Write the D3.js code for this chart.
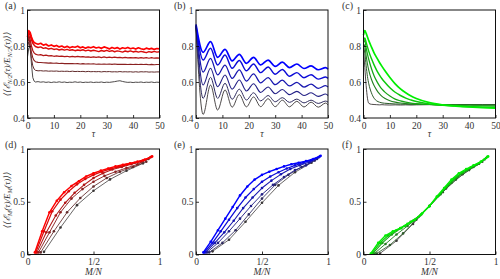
<!DOCTYPE html>
<html><head><meta charset="utf-8">
<script src="https://cdn.jsdelivr.net/npm/d3@7"></script>
<style>
html,body{margin:0;padding:0;background:#fff;}
svg{display:block;}
</style></head>
<body>
<svg id="chart" width="500" height="279"></svg>
<script>
// ---------------- DATA ----------------
const panelLabels = ["(a)","(b)","(c)","(d)","(e)","(f)"];
const topXTicks = [0,10,20,30,40,50];
const topYTicks = [0.4,0.6,0.8,1];
const topYTickLabels = ["0.4","0.6","0.8","1"];
const botXTicks = [0,0.5,1];
const botXTickLabels = ["0","1/2","1"];
const botYTicks = [0,0.5,1];
const botYTickLabels = ["0","0.5","1"];

// panel (a): tau grid and six curves (bright -> dark)
const tauA = [0,0.5,1,1.5,2,2.5,3,4,5,6,7,8,9,10,11,12,13,14,15,16,17,18,19,20,21,22,23,24,25,26,27,28,29,30,31,32,33,34,35,36,37,38,39,40,41,42,43,44,45,46,47,48,49,50];
const a1 = [0.85,0.885,0.875,0.85,0.83,0.82,0.815,0.81,0.815,0.805,0.81,0.80,0.806,0.798,0.803,0.795,0.80,0.792,0.798,0.79,0.796,0.793,0.799,0.79,0.795,0.788,0.794,0.79,0.796,0.789,0.793,0.787,0.795,0.79,0.784,0.792,0.786,0.791,0.783,0.79,0.786,0.792,0.785,0.789,0.783,0.79,0.785,0.781,0.788,0.783,0.787,0.781,0.786,0.784];
const a2 = [0.86,0.875,0.86,0.835,0.815,0.805,0.797,0.792,0.795,0.787,0.79,0.783,0.787,0.781,0.784,0.778,0.782,0.777,0.781,0.776,0.779,0.774,0.778,0.775,0.779,0.773,0.777,0.772,0.776,0.773,0.769,0.775,0.771,0.776,0.77,0.774,0.768,0.773,0.77,0.766,0.772,0.768,0.773,0.767,0.771,0.766,0.77,0.767,0.763,0.769,0.765,0.77,0.766,0.768];
const a3 = [0.84,0.86,0.835,0.80,0.775,0.762,0.755,0.75,0.752,0.747,0.749,0.745,0.747,0.743,0.745,0.742,0.744,0.741,0.743,0.74,0.742,0.739,0.742,0.739,0.741,0.738,0.74,0.737,0.74,0.737,0.739,0.736,0.739,0.736,0.738,0.735,0.738,0.735,0.737,0.734,0.737,0.734,0.736,0.734,0.736,0.733,0.736,0.733,0.735,0.732,0.735,0.732,0.734,0.733];
const a4 = [0.82,0.845,0.81,0.765,0.735,0.72,0.713,0.709,0.708,0.707,0.706,0.705,0.706,0.704,0.705,0.703,0.704,0.702,0.703,0.702,0.703,0.701,0.702,0.70,0.702,0.70,0.701,0.70,0.701,0.699,0.70,0.699,0.70,0.699,0.70,0.698,0.70,0.698,0.699,0.698,0.699,0.697,0.699,0.697,0.698,0.697,0.698,0.697,0.698,0.696,0.698,0.696,0.697,0.697];
const a5 = [0.79,0.825,0.79,0.73,0.69,0.672,0.665,0.662,0.663,0.661,0.662,0.66,0.661,0.66,0.661,0.659,0.66,0.659,0.66,0.658,0.66,0.658,0.659,0.658,0.659,0.657,0.659,0.657,0.658,0.657,0.658,0.656,0.658,0.657,0.658,0.656,0.657,0.656,0.658,0.656,0.657,0.656,0.657,0.655,0.657,0.655,0.657,0.656,0.657,0.655,0.656,0.655,0.656,0.656];
const a6 = [0.74,0.79,0.795,0.70,0.625,0.605,0.60,0.602,0.599,0.601,0.598,0.60,0.597,0.60,0.598,0.601,0.598,0.60,0.597,0.599,0.598,0.601,0.598,0.60,0.597,0.599,0.598,0.60,0.597,0.599,0.598,0.60,0.597,0.599,0.598,0.60,0.602,0.605,0.607,0.603,0.60,0.598,0.599,0.597,0.599,0.598,0.60,0.597,0.599,0.598,0.60,0.597,0.599,0.598];

// panel (b): tau grid at oscillation extrema
const tauB = [0,2.7,5.5,8.2,11,13.7,16.4,19.1,21.8,24.5,27.3,30,32.7,35.4,38.2,40.9,43.6,46.3,49.1,50];
const b1 = [0.92,0.765,0.824,0.737,0.781,0.717,0.754,0.704,0.737,0.695,0.722,0.687,0.71,0.68,0.70,0.675,0.69,0.668,0.68,0.672];
const b2 = [0.915,0.722,0.787,0.694,0.75,0.676,0.719,0.662,0.70,0.652,0.683,0.643,0.67,0.632,0.652,0.624,0.64,0.616,0.628,0.62];
const b3 = [0.912,0.655,0.731,0.639,0.694,0.62,0.667,0.605,0.645,0.595,0.625,0.585,0.61,0.578,0.598,0.572,0.588,0.565,0.58,0.572];
const b4 = [0.91,0.583,0.676,0.574,0.639,0.56,0.611,0.55,0.59,0.542,0.572,0.535,0.558,0.53,0.548,0.525,0.54,0.52,0.533,0.525];
const b5 = [0.905,0.509,0.626,0.509,0.593,0.504,0.56,0.50,0.54,0.495,0.525,0.49,0.513,0.487,0.505,0.484,0.499,0.481,0.494,0.488];
const b6 = [0.90,0.42,0.583,0.444,0.556,0.46,0.53,0.462,0.517,0.463,0.507,0.463,0.499,0.462,0.493,0.461,0.488,0.46,0.483,0.472];

// panel (c)
const tauC = [0,0.5,1,1.5,2,3,4,5,6,7,8,10,12,14,16,18,20,25,30,35,40,45,50];
const c1 = [0.86,0.885,0.87,0.85,0.83,0.795,0.762,0.735,0.71,0.687,0.665,0.625,0.59,0.562,0.54,0.522,0.508,0.485,0.473,0.466,0.461,0.458,0.455];
const c2 = [0.83,0.845,0.82,0.795,0.77,0.73,0.695,0.665,0.64,0.618,0.60,0.568,0.543,0.525,0.51,0.50,0.492,0.478,0.47,0.466,0.463,0.46,0.458];
const c3 = [0.82,0.83,0.79,0.755,0.725,0.675,0.635,0.605,0.58,0.56,0.545,0.522,0.505,0.495,0.488,0.483,0.48,0.475,0.472,0.47,0.468,0.467,0.466];
const c4 = [0.81,0.80,0.745,0.70,0.665,0.615,0.58,0.555,0.535,0.52,0.51,0.496,0.488,0.483,0.48,0.478,0.477,0.475,0.474,0.473,0.472,0.471,0.471];
const c5 = [0.80,0.76,0.69,0.63,0.59,0.54,0.51,0.495,0.488,0.484,0.482,0.48,0.478,0.477,0.477,0.476,0.476,0.475,0.475,0.474,0.475,0.474,0.474];
const c6 = [0.78,0.68,0.58,0.51,0.482,0.476,0.475,0.474,0.473,0.474,0.473,0.472,0.473,0.472,0.473,0.472,0.473,0.474,0.473,0.474,0.475,0.474,0.475];

// bottom panels: system sizes N, points at M/N for M = 1..N-1
const sizesN = [18,16,14,12,10,8];
const d18 = [0.02,0.22,0.40,0.51,0.59,0.65,0.695,0.74,0.77,0.795,0.815,0.835,0.85,0.865,0.88,0.90,0.93];
const d16 = [0.02,0.22,0.41,0.52,0.60,0.665,0.715,0.755,0.785,0.81,0.83,0.85,0.87,0.89,0.925];
const d14 = [0.02,0.21,0.37,0.49,0.585,0.66,0.725,0.77,0.805,0.83,0.855,0.88,0.92];
const d12 = [0.02,0.21,0.40,0.53,0.62,0.69,0.745,0.785,0.82,0.855,0.905];
const d10 = [0.02,0.22,0.40,0.535,0.645,0.725,0.785,0.83,0.88];
const d8  = [0.025,0.256,0.468,0.604,0.712,0.794,0.864];

const e18 = [0.02,0.12,0.23,0.34,0.45,0.56,0.645,0.71,0.755,0.785,0.81,0.835,0.855,0.87,0.885,0.905,0.935];
const e16 = [0.02,0.11,0.22,0.33,0.44,0.54,0.62,0.69,0.74,0.78,0.815,0.845,0.87,0.895,0.93];
const e14 = [0.02,0.11,0.21,0.32,0.44,0.54,0.63,0.70,0.76,0.81,0.845,0.875,0.92];
const e12 = [0.02,0.11,0.22,0.34,0.46,0.57,0.66,0.735,0.80,0.845,0.905];
const e10 = [0.02,0.11,0.23,0.38,0.53,0.66,0.755,0.83,0.89];
const e8  = [0.03,0.14,0.31,0.49,0.655,0.78,0.87];

const f18 = [0.01,0.11,0.18,0.22,0.25,0.29,0.33,0.39,0.46,0.55,0.63,0.71,0.77,0.81,0.845,0.88,0.93];
const f16 = [0.01,0.11,0.18,0.23,0.27,0.32,0.38,0.46,0.55,0.64,0.72,0.78,0.825,0.865,0.925];
const f14 = [0.01,0.11,0.19,0.25,0.31,0.37,0.46,0.56,0.66,0.74,0.80,0.85,0.915];
const f12 = [0.01,0.10,0.19,0.27,0.355,0.46,0.57,0.68,0.77,0.83,0.90];
const f10 = [0.01,0.09,0.20,0.33,0.46,0.59,0.71,0.80,0.88];
const f8  = [0.01,0.13,0.29,0.46,0.625,0.76,0.86];

// ---------------- DRAW ----------------
const svg = d3.select("#chart");
const SERIF = "'Liberation Serif','DejaVu Serif',serif";
const cols = [{x0:27.5,x1:159.5},{x0:196,x1:328},{x0:363.5,x1:495.5}];
const rows = [{y0:10,y1:118},{y0:149,y1:254.5}];
const baseColors = ["#ff0000","#0000ff","#00ee00"];
const darkColor = "#3a3636";
const widths = [1.7,1.45,1.25,1.1,1.0,0.9];

const topSets = [[a1,a2,a3,a4,a5,a6],[b1,b2,b3,b4,b5,b6],[c1,c2,c3,c4,c5,c6]];
const topTaus = [tauA,tauB,tauC];
const topCurves = [d3.curveLinear, d3.curveMonotoneX, d3.curveMonotoneX];
const botSets = [[d18,d16,d14,d12,d10,d8],[e18,e16,e14,e12,e10,e8],[f18,f16,f14,f12,f10,f8]];

function colorOf(p,i){ return d3.interpolateRgb(darkColor, baseColors[p])(1 - i/5); }

function drawAxes(g, x, y, xt, xl, yt, yl){
  const ax = g.append("g").attr("transform",`translate(0,${y.range()[0]})`)
    .call(d3.axisBottom(x).tickValues(xt).tickFormat((d,i)=>xl[i]).tickSizeInner(-3).tickSizeOuter(0).tickPadding(4));
  const ay = g.append("g").attr("transform",`translate(${x.range()[0]},0)`)
    .call(d3.axisLeft(y).tickValues(yt).tickFormat((d,i)=>yl[i]).tickSizeInner(-3).tickSizeOuter(0).tickPadding(2.5));
  [ax,ay].forEach(a=>{
    a.select(".domain").remove();
    a.selectAll("line").attr("stroke","#000").attr("stroke-width",0.8);
    a.selectAll("text").attr("fill","#333").style("font-family",SERIF).style("font-size","9.5px");
  });
  g.append("rect").attr("x",x.range()[0]).attr("y",y.range()[1])
    .attr("width",x.range()[1]-x.range()[0]).attr("height",y.range()[0]-y.range()[1])
    .attr("fill","none").attr("stroke","#111").attr("stroke-width",1);
}

function yLabel(cx, cy, sub){
  const t = svg.append("text").attr("transform",`translate(${cx},${cy}) rotate(-90)`)
    .attr("text-anchor","middle").attr("fill","#333")
    .style("font-family",SERIF).style("font-size","9px").style("font-style","italic");
  t.append("tspan").text("⟨⟨ℰ");
  t.append("tspan").attr("dy",2).style("font-size","6.5px").text(sub);
  t.append("tspan").attr("dy",-2).text("(τ)/E");
  t.append("tspan").attr("dy",2).style("font-size","6.5px").text(sub);
  t.append("tspan").attr("dy",-2).text("(τ)⟩⟩");
}

// top row
for(let p=0;p<3;p++){
  const x = d3.scaleLinear().domain([0,50]).range([cols[p].x0, cols[p].x1]);
  const y = d3.scaleLinear().domain([0.4,1]).range([rows[0].y1, rows[0].y0]);
  const g = svg.append("g");
  const tau = topTaus[p];
  const line = d3.line().x((d,i)=>x(tau[i])).y(d=>y(d)).curve(topCurves[p]);
  for(let i=5;i>=0;i--){
    g.append("path").attr("d", line(topSets[p][i])).attr("fill","none")
      .attr("stroke", colorOf(p,i)).attr("stroke-width", widths[i]).attr("stroke-linejoin","round");
  }
  drawAxes(g, x, y, topXTicks, topXTicks.map(String), topYTicks, topYTickLabels);
  svg.append("text").attr("x",(cols[p].x0+cols[p].x1)/2).attr("y",137).attr("text-anchor","middle")
    .attr("fill","#333").style("font-family",SERIF).style("font-size","9.5px").style("font-style","italic").text("τ");
}
// bottom row
for(let p=0;p<3;p++){
  const x = d3.scaleLinear().domain([0,1]).range([cols[p].x0, cols[p].x1]);
  const y = d3.scaleLinear().domain([0,1]).range([rows[1].y1, rows[1].y0]);
  const g = svg.append("g");
  for(let i=5;i>=0;i--){
    const N = sizesN[i];
    const pts = botSets[p][i].map((v,k)=>[(k+1)/N, v]);
    const line = d3.line().x(d=>x(d[0])).y(d=>y(d[1]));
    const col = colorOf(p+0,i);
    g.append("path").attr("d", line(pts)).attr("fill","none")
      .attr("stroke", col).attr("stroke-width", widths[i]*0.85).attr("stroke-linejoin","round");
    g.selectAll(null).data(pts).enter().append("circle")
      .attr("cx",d=>x(d[0])).attr("cy",d=>y(d[1])).attr("r",1.3).attr("fill",col);
  }
  drawAxes(g, x, y, botXTicks, botXTickLabels, botYTicks, botYTickLabels);
  svg.append("text").attr("x",(cols[p].x0+cols[p].x1)/2).attr("y",275).attr("text-anchor","middle")
    .attr("fill","#333").style("font-family",SERIF).style("font-size","9.5px").style("font-style","italic").text("M/N");
}
// panel labels
const labelPos = [[5,9],[174,9],[342,9],[5,148],[174,148],[342,148]];
panelLabels.forEach((t,i)=>{
  svg.append("text").attr("x",labelPos[i][0]).attr("y",labelPos[i][1]).attr("fill","#333")
    .style("font-family",SERIF).style("font-size","10px").text(t);
});
yLabel(10, 64, "N/2");
yLabel(10, 200, "M");
</script>
</body></html>
